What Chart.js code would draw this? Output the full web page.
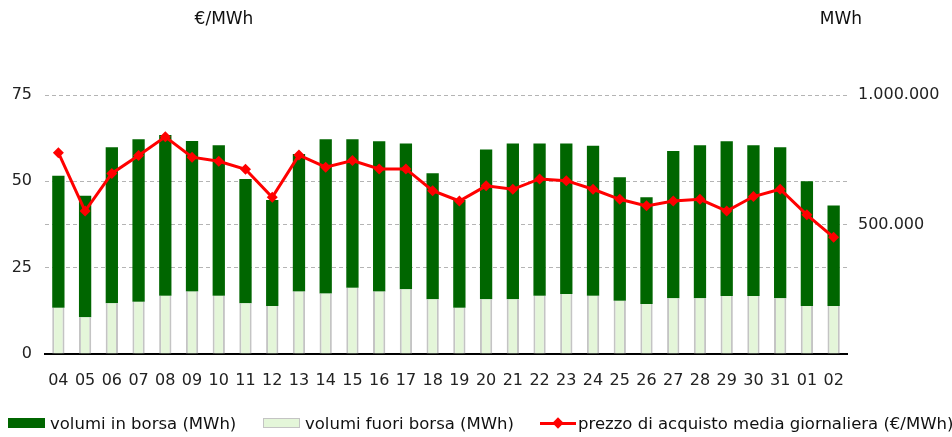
<!DOCTYPE html>
<html>
<head>
<meta charset="utf-8">
<script src="https://cdn.jsdelivr.net/npm/chart.js@4.4.0/dist/chart.umd.min.js"></script>
<style>
  body { margin: 0; background: #fff; font-family: "DejaVu Sans", sans-serif; }
  #wrap { position: relative; width: 952px; height: 437px; }
  #wrap canvas { position: absolute; left: 0; top: 0; }
  .unit { position: absolute; top: 8px; font-size: 17px; color: #111; transform: translateX(-50%); }
  #legend { position: absolute; left: 0; top: 412px; width: 952px; height: 22px; font-size: 16.5px; color: #111; }
  .item { position: absolute; top: 0; display: flex; align-items: center; height: 22px; white-space: nowrap; }
  .swatch { width: 37px; height: 10px; margin-right: 5px; box-sizing: border-box; }
  .lineKey { position: relative; width: 36px; height: 3px; background: #ff0000; margin-right: 2px; }
  .lineKey span { position: absolute; left: 14px; top: -3px; width: 8px; height: 8px; background: #ff0000; transform: rotate(45deg); }
</style>
</head>
<body>
<div id="wrap">
  <canvas id="chart"></canvas>
  <div class="unit" style="left:224px">€/MWh</div>
  <div class="unit" style="left:841px">MWh</div>
  <div id="legend"></div>
</div>
<script>
const days = ['04','05','06','07','08','09','10','11','12','13','14','15','16','17','18','19',
  '20','21','22','23','24','25','26','27','28','29','30','31','01','02'];

// MWh
const volumiInBorsa = [509000, 469000, 602000, 627000, 621000, 581000, 581000, 480000, 410000, 531000,
  595000, 573000, 580000, 563000, 487000, 416000, 579000, 602000, 588000, 581000,
  579000, 476000, 412000, 569000, 591000, 597000, 582000, 583000, 482000, 388000];
const volumiFuoriBorsa = [179000, 142000, 196000, 202000, 225000, 241000, 225000, 196000, 185000, 241000,
  234000, 256000, 241000, 250000, 211000, 179000, 211000, 211000, 225000, 232000,
  225000, 206000, 193000, 215000, 215000, 224000, 224000, 215000, 185000, 185000];

// €/MWh
const prezzoAcquisto = [58.3, 41.4, 52.3, 57.5, 62.9, 57.0, 55.8, 53.5, 45.4, 57.6,
  54.1, 56.0, 53.6, 53.6, 47.3, 44.3, 48.7, 47.7, 50.7, 50.2,
  47.7, 44.8, 42.9, 44.3, 44.8, 41.4, 45.6, 47.7, 40.3, 33.8];

const tickFont = { family: 'DejaVu Sans', size: 16 };
const darkGreen = '#006600';
const lightGreen = '#e4f6d9';
const barGrey = '#c4c4c4';

function formatIt(v) {
  return String(v).replace(/\B(?=(\d{3})+(?!\d))/g, '.');
}

function dashedGrid(ctx) {
  return ctx.tick && ctx.tick.value === 0 ? 'rgba(0,0,0,0)' : '#b4b4b4';
}

const data = {
  labels: days,
  datasets: [
    {
      type: 'line',
      label: 'prezzo di acquisto media giornaliera (€/MWh)',
      data: prezzoAcquisto,
      yAxisID: 'y',
      borderColor: '#ff0000',
      backgroundColor: '#ff0000',
      borderWidth: 3,
      pointStyle: 'rectRot',
      pointRadius: 5.5,
      pointBorderWidth: 0,
      tension: 0,
      order: 0
    },
    {
      type: 'bar',
      label: 'volumi fuori borsa (MWh)',
      data: volumiFuoriBorsa,
      yAxisID: 'y1',
      stack: 'vol',
      backgroundColor: lightGreen,
      borderColor: barGrey,
      borderWidth: { left: 2, right: 2, top: 0, bottom: 0 },
      borderSkipped: false,
      barPercentage: 0.46,
      categoryPercentage: 1,
      order: 1
    },
    {
      type: 'bar',
      label: 'volumi in borsa (MWh)',
      data: volumiInBorsa,
      yAxisID: 'y1',
      stack: 'vol',
      backgroundColor: darkGreen,
      borderWidth: 0,
      barPercentage: 0.46,
      categoryPercentage: 1,
      order: 1
    }
  ]
};

const options = {
  responsive: true,
  maintainAspectRatio: false,
  animation: false,
  layout: { padding: { top: 95, left: 0, right: 0, bottom: 0 } },
  plugins: { legend: { display: false }, tooltip: { enabled: false } },
  scales: {
    x: {
      stacked: true,
      grid: { display: false, drawTicks: false },
      border: { display: true, color: '#000', width: 2 },
      ticks: { font: tickFont, color: '#222', padding: 17, maxRotation: 0, autoSkip: false },
      afterFit: s => { s.height = 83; }
    },
    y: {
      position: 'left',
      min: 0,
      max: 75,
      ticks: { stepSize: 25, font: tickFont, color: '#222', padding: 13 },
      grid: { color: dashedGrid, lineWidth: 1, drawTicks: false },
      border: { display: false, dash: [4, 3] },
      afterFit: s => { s.width = 45; }
    },
    y1: {
      position: 'right',
      stacked: true,
      min: 0,
      max: 1000000,
      ticks: {
        stepSize: 500000, font: tickFont, color: '#222', padding: 11,
        callback: v => v === 0 ? '' : formatIt(v)
      },
      grid: { color: dashedGrid, lineWidth: 1, drawTicks: false },
      border: { display: false, dash: [4, 3] },
      afterFit: s => { s.width = 105; }
    }
  }
};

const chart = new Chart(document.getElementById('chart'), { data: data, options: options });

// legend under the chart, in the reference's order
const legendItems = [
  { ds: data.datasets[2], x: 8, kind: 'box' },
  { ds: data.datasets[1], x: 263, kind: 'box' },
  { ds: data.datasets[0], x: 540, kind: 'line' }
];
const legend = document.getElementById('legend');
legendItems.forEach(it => {
  const el = document.createElement('div');
  el.className = 'item';
  el.style.left = it.x + 'px';
  let key;
  if (it.kind === 'box') {
    key = document.createElement('div');
    key.className = 'swatch';
    key.style.background = it.ds.backgroundColor;
    if (it.ds.borderColor) key.style.border = '1px solid ' + it.ds.borderColor;
  } else {
    key = document.createElement('div');
    key.className = 'lineKey';
    key.appendChild(document.createElement('span'));
  }
  el.appendChild(key);
  const txt = document.createElement('span');
  txt.textContent = it.ds.label;
  el.appendChild(txt);
  legend.appendChild(el);
});
</script>
</body>
</html>
